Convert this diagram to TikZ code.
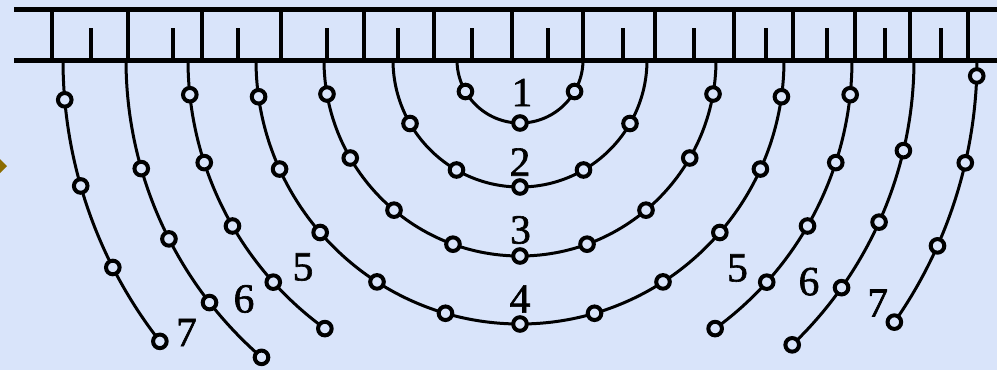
\documentclass[tikz,border=0pt]{standalone}
\usepackage{fontspec}
\setmainfont{Liberation Serif}
\newfontfamily\numfont[FakeBold=1.5]{Liberation Serif}
\definecolor{paper}{RGB}{217,228,250}
\definecolor{bullet}{RGB}{140,108,0}
\tikzset{
  ray/.style={line width=1.5pt},
  hole/.style={circle, draw, fill=paper, line width=2pt, inner sep=0pt, minimum size=6.8pt},
  num/.style={inner sep=0pt, font=\numfont\fontsize{20.7pt}{24pt}\selectfont},
  tick/.style={line width=2pt}
}
\begin{document}
\begin{tikzpicture}
    [x=0.5pt,y=-0.5pt]
    %background
    \fill[paper] (0,0) rectangle (997,370);
    \useasboundingbox (0,0) rectangle (997,370);
    \fill[bullet] (0,159)--(7,166)--(0,173)--cycle;
    %wall
    \draw[line width=2.5pt] (14,9.5)--(997,9.5);
    \draw[line width=2.3pt] (14,60.5)--(997,60.5);
    \foreach \x in {52,128,202,281,364,434,512,583,655,734,793,855,910,968}
      \draw[tick] (\x,9.5)--(\x,60.5);
    \foreach \x in {91,173,238,327,398,472,548,623,694,766,827,885,941}
      \draw[tick] (\x,28)--(\x,60.5);
    \coordinate (o) at (520,60);
    %full arcs
    \draw[ray] (o) ++(180:63) arc[start angle=180, end angle=0, radius=63];
    \draw[ray] (o) ++(180:127) arc[start angle=180, end angle=0, radius=127];
    \draw[ray] (o) ++(180:196) arc[start angle=180, end angle=0, radius=196];
    \draw[ray] (o) ++(180:264) arc[start angle=180, end angle=0, radius=264];
    %broken arcs
    \draw[ray] (o) ++(180:332) arc[start angle=180, end angle=126, radius=332];
    \draw[ray] (o) ++(0:332) arc[start angle=0, end angle=54, radius=332];
    \draw[ray] (o) ++(180:394) arc[start angle=180, end angle=131, radius=394];
    \draw[ray] (o) ++(0:394) arc[start angle=0, end angle=46.3, radius=394];
    \draw[ray] (o) ++(180:457) arc[start angle=180, end angle=142, radius=457];
    \draw[ray] (o) ++(0:457) arc[start angle=0, end angle=35, radius=457];
    %holes
    \foreach \t [count=\i] in {30,90,150}
      \path (o) ++(\t:63) node[hole] (a1-\i) {};
    \foreach \t [count=\i] in {30,60,90,120,150}
      \path (o) ++(\t:127) node[hole] (a2-\i) {};
    \foreach \t [count=\i] in {10,30,50,70,90,110,130,150,170}
      \path (o) ++(\t:196) node[hole] (a3-\i) {};
    \foreach \t [count=\i] in {8,24.4,40.8,57.2,73.6,90,106.4,122.8,139.2,155.6,172}
      \path (o) ++(\t:264) node[hole] (a4-\i) {};
    \foreach \t [count=\i] in {6,18,30,42,54,126,138,150,162,174}
      \path (o) ++(\t:332) node[hole] (a5-\i) {};
    \foreach \t [count=\i] in {13.3,24.3,35.3,46.3,131,142,153,164}
      \path (o) ++(\t:394) node[hole] (a6-\i) {};
    \foreach \t [count=\i] in {2,13,24,35,142,153,164,175}
      \path (o) ++(\t:457) node[hole] (a7-\i) {};
    %labels
    \node[num] (n1) at (522,92.5) {1};
    \node[num] (n2) at (520,162) {2};
    \node[num] (n3) at (520.5,230) {3};
    \node[num] (n4) at (520,299) {4};
    \node[num] (n5l) at (303,267) {5};
    \node[num] (n6l) at (244,299) {6};
    \node[num] (n7l) at (186.5,332.5) {7};
    \node[num] (n5r) at (737.5,268) {5};
    \node[num] (n6r) at (809,281.7) {6};
    \node[num] (n7r) at (877.7,303) {7};
\end{tikzpicture}
\end{document}
